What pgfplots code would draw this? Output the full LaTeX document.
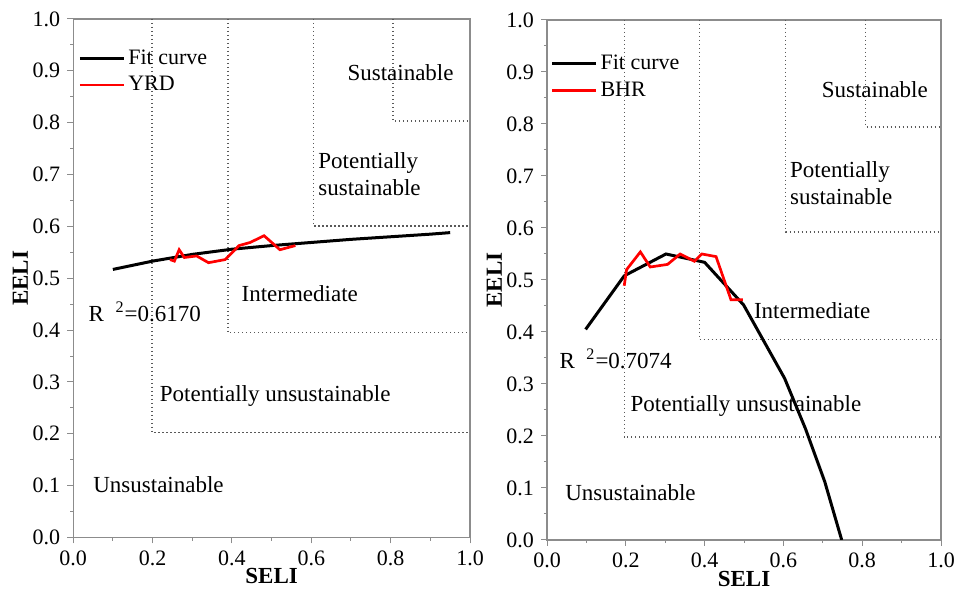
\documentclass[border=0pt]{standalone}
\usepackage{fontspec}
\setmainfont{Liberation Serif}
\usepackage{pgfplots}
\pgfplotsset{compat=1.18}
\tikzset{lbl/.style={font=\fontsize{11.5}{13.5}\selectfont, inner sep=0pt}}
\pgfplotsset{
  myaxis/.style={
    scale only axis,
    xmin=0,xmax=1,ymin=0,ymax=1,
    xtick={0,0.2,0.4,0.6,0.8,1},
    xticklabels={0.0,0.2,0.4,0.6,0.8,1.0},
    minor xtick={0.1,0.3,0.5,0.7,0.9},
    ytick={0,0.1,0.2,0.3,0.4,0.5,0.6,0.7,0.8,0.9,1},
    yticklabels={0.0,0.1,0.2,0.3,0.4,0.5,0.6,0.7,0.8,0.9,1.0},
    minor ytick={0.05,0.15,0.25,0.35,0.45,0.55,0.65,0.75,0.85,0.95},
    tick align=outside, tick pos=left,
    major tick length=3pt, minor tick length=1.6pt,
    every tick/.style={gray!90, line width=0.5pt},
    axis line style={gray!90, line width=0.6pt},
    ticklabel style={font=\fontsize{11}{13}\selectfont, text=black},
    /pgf/number format/assume math mode=true,
    xlabel={\textbf{SELI}}, ylabel={\textbf{EELI}},
    label style={font=\fontsize{11.5}{13}\selectfont},
    xlabel style={at={(axis description cs:0.5,-0.075)}, anchor=center},
    ylabel style={at={(axis description cs:-0.1335,0.5)}, anchor=center},
    legend cell align=left,
    legend image code/.code={\draw[#1] (0pt,0pt) -- (22pt,0pt);},
    legend style={draw=none, fill=none, inner sep=0pt, row sep=0pt,
      nodes={inner xsep=1.5pt, inner ysep=2.25pt}, font=\fontsize{11}{13}\selectfont},
  },
  zone/.style={gray!70!black, line width=0.7pt, dash pattern=on 0.6pt off 1.4pt, forget plot},
  fit/.style={black, line width=1.5pt},
  obs/.style={red, line width=1.35pt},
}
\begin{document}
\begin{tikzpicture}
\useasboundingbox (0,0) rectangle (479pt,296.5pt);
% ---------------- Left: YRD ----------------
\begin{axis}[myaxis,
  at={(36.6pt,27.75pt)}, anchor=south west,
  width=198.4pt, height=259.25pt,
  legend style={at={(axis cs:0.012,0.95)}, anchor=north west}]
\addplot[zone] coordinates {(0.199,1) (0.199,0.202) (1,0.202)};
\addplot[zone] coordinates {(0.390,1) (0.390,0.395) (1,0.395)};
\addplot[zone] coordinates {(0.605,1) (0.605,0.601) (1,0.601)};
\addplot[zone] coordinates {(0.806,1) (0.806,0.803) (1,0.803)};
\addplot[fit] coordinates {(0.1,0.517) (0.2,0.533) (0.3,0.546) (0.4,0.556) (0.5,0.563) (0.6,0.569) (0.7,0.575) (0.8,0.580) (0.9,0.585) (0.95,0.588)};
\addlegendentry{Fit curve}
\addplot[obs] coordinates {(0.244,0.536) (0.255,0.533) (0.267,0.555) (0.280,0.540) (0.311,0.543) (0.341,0.530) (0.383,0.536) (0.418,0.563) (0.446,0.569) (0.481,0.582) (0.521,0.555) (0.560,0.563)};
\addlegendentry{YRD}
\node[lbl] at (axis cs:0.825,0.896) {Sustainable};
\node[lbl, anchor=west, align=left] at (axis cs:0.617,0.701) {Potentially\\sustainable};
\node[lbl] at (axis cs:0.571,0.470) {Intermediate};
\node[lbl, anchor=west] at (axis cs:0.038,0.435) {R~~\textsuperscript{2}=0.6170};
\node[lbl] at (axis cs:0.509,0.272) {Potentially unsustainable};
\node[lbl] at (axis cs:0.215,0.102) {Unsustainable};
\end{axis}
% ---------------- Right: BHR ----------------
\begin{axis}[myaxis,
  at={(273.5pt,26.5pt)}, anchor=south west,
  width=197pt, height=260pt,
  legend style={at={(axis cs:0.008,0.942)}, anchor=north west}]
\addplot[zone] coordinates {(0.196,1) (0.196,0.198) (1,0.198)};
\addplot[zone] coordinates {(0.387,1) (0.387,0.385) (1,0.385)};
\addplot[zone] coordinates {(0.606,1) (0.606,0.592) (1,0.592)};
\addplot[zone] coordinates {(0.809,1) (0.809,0.794) (1,0.794)};
\addplot[fit] coordinates {(0.098,0.405) (0.196,0.508) (0.302,0.550) (0.400,0.534) (0.499,0.452) (0.603,0.311) (0.656,0.214) (0.705,0.112) (0.748,0.0)};
\addlegendentry{Fit curve}
\addplot[obs] coordinates {(0.196,0.489) (0.202,0.520) (0.237,0.554) (0.262,0.525) (0.306,0.530) (0.338,0.550) (0.374,0.536) (0.393,0.550) (0.429,0.545) (0.467,0.462) (0.497,0.462)};
\addlegendentry{BHR}
\node[lbl] at (axis cs:0.832,0.867) {Sustainable};
\node[lbl, anchor=west, align=left] at (axis cs:0.616,0.687) {Potentially\\sustainable};
\node[lbl] at (axis cs:0.673,0.441) {Intermediate};
\node[lbl, anchor=west] at (axis cs:0.031,0.349) {R~~\textsuperscript{2}=0.7074};
\node[lbl] at (axis cs:0.505,0.258) {Potentially unsustainable};
\node[lbl] at (axis cs:0.212,0.092) {Unsustainable};
\end{axis}
\end{tikzpicture}
\end{document}
